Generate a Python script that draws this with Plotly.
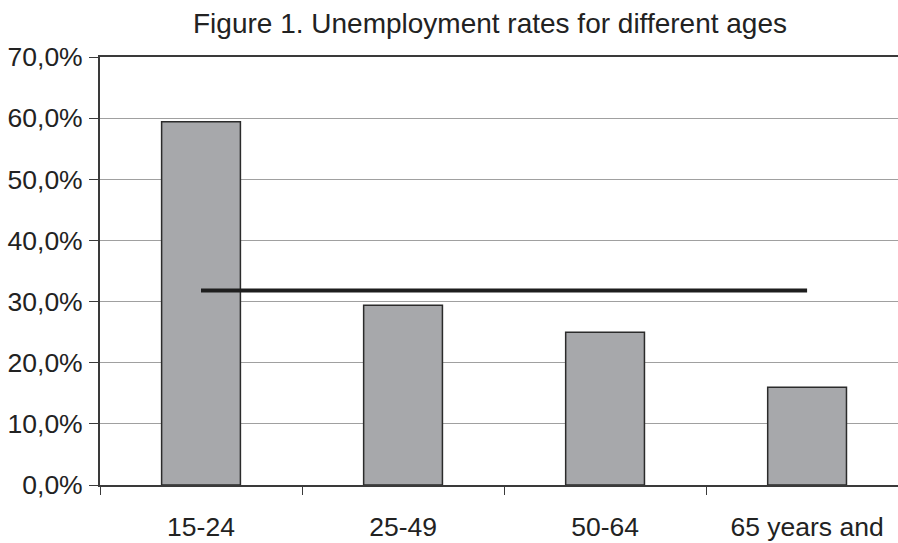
import plotly.graph_objects as go

categories = ["15-24", "25-49", "50-64", "65 years and"]
unemployment_rate = [0.594, 0.294, 0.250, 0.160]
average_rate = [0.318, 0.318, 0.318, 0.318]
y_ticks = [0.0, 0.1, 0.2, 0.3, 0.4, 0.5, 0.6, 0.7]

FONT = "Liberation Sans, Arial, sans-serif"

fig = go.Figure()
fig.add_trace(go.Bar(
    x=categories, y=unemployment_rate,
    marker=dict(color="#a7a8ab", line=dict(color="#2b2b2b", width=1.5)),
    width=0.39, showlegend=False, hoverinfo="x+y",
))
fig.add_trace(go.Scatter(
    x=categories, y=average_rate, mode="lines",
    line=dict(color="#1e1e1e", width=4), showlegend=False,
))

fig.update_layout(
    width=898, height=543,
    margin=dict(l=100, r=0, t=57, b=58),
    paper_bgcolor="white", plot_bgcolor="white",
    separators=", ",
    font=dict(family=FONT, size=26.5, color="#222222"),
    title=dict(
        text="Figure 1. Unemployment rates for different ages",
        font=dict(family=FONT, size=28, color="#222222"),
        xref="container", x=490 / 898, xanchor="center",
        yref="container", y=1 - 23 / 543, yanchor="middle",
    ),
)
fig.update_xaxes(
    type="category", range=[-0.5, 3.45], automargin=False,
    showline=True, linecolor="#3a3a3a", linewidth=2, mirror=True,
    ticks="outside", tickson="boundaries", ticklen=8, tickcolor="#3a3a3a", tickwidth=1,
    showgrid=False, ticklabelstandoff=17,
    tickfont=dict(family=FONT, size=26.5, color="#222222"),
)
fig.update_yaxes(
    range=[0, 0.70], tickvals=y_ticks, tickformat=".1%", automargin=False,
    showline=True, linecolor="#3a3a3a", linewidth=2,
    ticks="outside", ticklen=9, tickcolor="#3a3a3a", tickwidth=1,
    showgrid=True, gridcolor="#a0a0a0", gridwidth=1, zeroline=False,
    ticklabelstandoff=1,
    tickfont=dict(family=FONT, size=26.5, color="#222222"),
)

fig.write_html("out.html")
